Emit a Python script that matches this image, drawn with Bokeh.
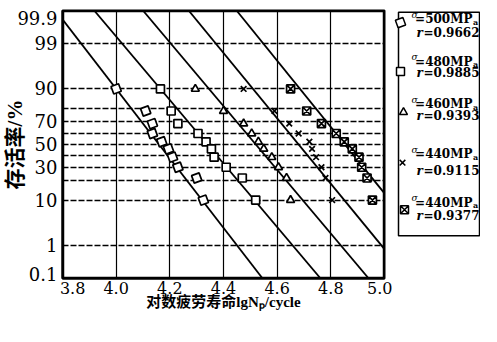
import math
from bokeh.plotting import figure
from bokeh.layouts import row
from bokeh.models import FixedTicker, Range1d, PrintfTickFormatter
from bokeh.core.properties import value
from bokeh.embed import file_html
from bokeh.resources import INLINE

# ---------------- data ----------------
survival_pct = [90, 78, 68.5, 60, 52.5, 46, 38.5, 30, 22, 10]
lgN_500 = [4.00, 4.11, 4.135, 4.135, 4.17, 4.195, 4.21, 4.23, 4.30, 4.325]
lgN_480 = [4.165, 4.205, 4.23, 4.305, 4.335, 4.355, 4.365, 4.41, 4.47, 4.52]
lgN_460 = [4.295, 4.40, 4.475, 4.505, 4.53, 4.55, 4.58, 4.605, 4.635, 4.65]
lgN_440a = [4.475, 4.59, 4.645, 4.68, 4.72, 4.73, 4.745, 4.765, 4.78, 4.805]
lgN_440b = [4.65, 4.71, 4.765, 4.82, 4.85, 4.88, 4.905, 4.915, 4.935, 4.955]

stress_MPa = ["500", "480", "460", "440", "440"]
corr_r = ["0.9662", "0.9885", "0.9393", "0.9115", "0.9377"]
# fitted lines: lgN where each line crosses 90 % and 10 % survival
fit_lgN_90 = [4.00, 4.165, 4.346, 4.51, 4.685]
fit_lgN_10 = [4.32, 4.515, 4.695, 4.85, 5.02]

x_ticks = [3.8, 4.0, 4.2, 4.4, 4.6, 4.8, 5.0]
x_grid = [4.0, 4.2, 4.4, 4.6, 4.8]
y_tick_pct = [0.1, 1, 10, 30, 50, 70, 90, 99, 99.9]
y_grid_pct = [1, 10, 20, 30, 40, 50, 60, 70, 80, 90, 99]

x_title = "对数疲劳寿命lgNₚ/cycle"
y_title = "存活率/%"


def probit(pct):
    p = pct / 100.0
    lo, hi = -8.0, 8.0
    for _ in range(200):
        mid = 0.5 * (lo + hi)
        if 0.5 * (1 + math.erf(mid / math.sqrt(2))) < p:
            lo = mid
        else:
            hi = mid
    return 0.5 * (lo + hi)


series = [lgN_500, lgN_480, lgN_460, lgN_440a, lgN_440b]
styles = [
    dict(marker="square", angle=0.35),
    dict(marker="square", angle=0.0),
    dict(marker="triangle", angle=0.0),
    dict(marker="x", angle=0.0),
    dict(marker="square_x", angle=0.0),
]

TICK_FONT = "DejaVu Serif"
CJK_FONT = "Liberation Serif, Noto Sans CJK SC"
NBSP = "\u00a0"

z_lo, z_hi = probit(y_tick_pct[0]), probit(y_tick_pct[-1])
x_lo, x_hi = x_ticks[0], x_ticks[-1]

p = figure(width=392, height=312,
           x_range=Range1d(x_lo, x_hi), y_range=Range1d(z_lo, z_hi),
           output_backend="svg", toolbar_location=None, title=None,
           min_border_left=60, min_border_right=8, min_border_top=0, min_border_bottom=34)
p.outline_line_color = "black"
p.outline_line_width = 2

# axes
p.xaxis.ticker = FixedTicker(ticks=x_ticks)
p.xaxis.formatter = PrintfTickFormatter(format="%.1f")
# first label nudged right (as in the reference) so it clears the "0.1" label
p.xaxis.major_label_overrides = {x_ticks[0]: NBSP * 4 + f"{x_ticks[0]:.1f}"}
y_labels = {probit(v): f"{v:g}" for v in y_tick_pct}
y_labels[z_hi] = "\n" + f"{y_tick_pct[-1]:g}"
y_labels[z_lo] = f"{y_tick_pct[0]:g}" + "\n"
p.yaxis.ticker = FixedTicker(ticks=[probit(v) for v in y_tick_pct])
p.yaxis.major_label_overrides = y_labels
p.yaxis.major_label_text_line_height = 0.35
for ax in (p.xaxis, p.yaxis):
    ax.major_tick_out = 0
    ax.major_tick_in = 0
    ax.minor_tick_out = 0
    ax.minor_tick_in = 0
    ax.axis_line_color = "black"
    ax.axis_line_width = 2
    ax.major_label_text_font = TICK_FONT
    ax.major_label_text_color = "black"
    ax.axis_label_text_font = CJK_FONT
    ax.axis_label_text_font_style = "bold"
    ax.axis_label_text_color = "black"
p.xaxis.major_label_text_font_size = "16px"
p.yaxis.major_label_text_font_size = "18px"
p.xaxis.major_label_standoff = 0
p.yaxis.major_label_standoff = 5
p.xaxis.axis_label = x_title
p.xaxis.axis_label_text_font_size = "15px"
p.xaxis.axis_label_standoff = -7
p.yaxis.axis_label = y_title
p.yaxis.axis_label_text_font_size = "21px"
p.yaxis.axis_label_standoff = -13

# grids
p.xgrid.ticker = FixedTicker(ticks=x_grid)
p.xgrid.grid_line_color = "black"
p.xgrid.grid_line_width = 1.2
p.xgrid.grid_line_alpha = 1
p.ygrid.ticker = FixedTicker(ticks=[probit(v) for v in y_grid_pct])
p.ygrid.grid_line_color = "black"
p.ygrid.grid_line_width = 1.3
p.ygrid.grid_line_alpha = 1
p.ygrid.grid_line_dash = "6 2"

# plot frame
p.quad(left=[x_lo], right=[x_hi], bottom=[z_lo], top=[z_hi], fill_color=None,
       line_color="black", line_width=3.5)

# fitted lines
z90 = probit(90)
for x90, x10 in zip(fit_lgN_90, fit_lgN_10):
    k = (x10 - x90) / (2 * z90)
    xm = 0.5 * (x90 + x10)
    p.line([xm - k * z_hi, xm - k * z_lo], [z_hi, z_lo], line_color="black", line_width=1.8)

# data points
zs = [probit(s) for s in survival_pct]
for xs, st in zip(series, styles):
    p.scatter(x=xs, y=zs, marker=st["marker"], angle=st["angle"], size=8,
              line_color="black", line_width=1.7, fill_color="white")

# ---------------- legend panel ----------------
leg = figure(width=88, height=271, x_range=Range1d(400, 488), y_range=Range1d(279, 18),
             x_axis_type=None, y_axis_type=None, output_backend="svg", toolbar_location=None,
             title=None, min_border_left=0, min_border_right=0, min_border_top=10, min_border_bottom=0)
leg.outline_line_color = None
leg.quad(left=[406], right=[487], top=[20], bottom=[277], fill_color=None,
         line_color="black", line_width=1.5)

mk_x = [408, 408, 411, 410, 412]
mk_y = [32, 88, 135, 193, 247]
l1_y = [28, 77, 126, 183, 239]
l2_y = [44, 90, 139, 203, 254]

for i, st in enumerate(styles):
    leg.scatter(x=[mk_x[i]], y=[mk_y[i]], marker=st["marker"], angle=st["angle"], size=8,
                line_color="black", line_width=1.5, fill_color="white")

F = value("DejaVu Serif")
leg.text(x=[419] * 5, y=[v - 5 for v in l1_y], text=["σ"] * 5, text_font=F, text_font_size="9px",
         text_font_style="italic", text_align="left", text_baseline="middle", text_color="black")
leg.text(x=[480] * 5, y=l1_y, text=[f"={s}MP" for s in stress_MPa], text_font=F, text_font_size="12px",
         text_font_style="bold", text_align="right", text_baseline="middle", text_color="black")
leg.text(x=[480.5] * 5, y=[v + 3 for v in l1_y], text=["a"] * 5, text_font=F, text_font_size="8px",
         text_font_style="bold", text_align="left", text_baseline="middle", text_color="black")
leg.text(x=[424] * 5, y=l2_y, text=["r"] * 5, text_font=F, text_font_size="12px",
         text_font_style="bold italic", text_align="left", text_baseline="middle", text_color="black")
leg.text(x=[424] * 5, y=l2_y, x_offset=7, text=[f"={r}" for r in corr_r], text_font=F,
         text_font_size="12px", text_font_style="bold", text_align="left", text_baseline="middle",
         text_color="black")

layout = row(p, leg)
open("out.html", "w").write(file_html(layout, INLINE))
